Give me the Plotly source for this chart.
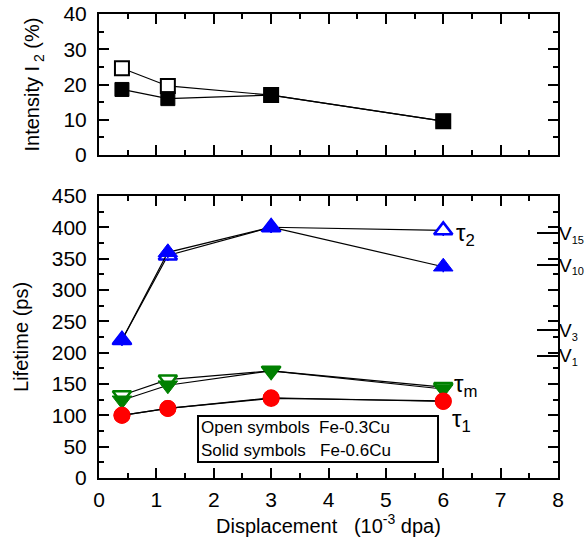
import plotly.graph_objects as go

# ---------------- data ----------------
dpa = [0.4, 1.2, 3.0, 6.0]

# Intensity I2 (%)
i2_open = [24.6, 19.6, 17.0, 9.6]     # Fe-0.3Cu
i2_solid = [18.6, 16.0, 17.0, 9.6]    # Fe-0.6Cu

# Lifetimes (ps)
tau2_open = [220, 355, 400, 395]
tau2_solid = [220, 360, 400, 337]
taum_open = [132, 157, 171, 145]
taum_solid = [124, 148, 171, 142]
tau1_open = [100, 111, 127, 123]
tau1_solid = [100, 111, 128, 122]

# Calculated vacancy-cluster lifetimes (right side marks)
v_levels = [195, 236, 340, 390]
v_subs = ["1", "3", "10", "15"]

FONT = "Liberation Sans, Arial, Helvetica, sans-serif"
BLUE = "#0000ff"
GREEN = "#008000"
RED = "#ff0000"

fig = go.Figure()

def add(x, y, xa, ya, symbol, fill, edge, size, ew=1.5, err=None):
    tr = go.Scatter(
        x=x, y=y, xaxis=xa, yaxis=ya, mode="lines+markers",
        line=dict(color="black", width=1.2),
        marker=dict(symbol=symbol, size=size, color=fill,
                    line=dict(color=edge, width=ew)),
        showlegend=False, cliponaxis=False,
    )
    if err is not None:
        tr.error_y = dict(type="constant", value=err, width=0,
                          thickness=1.5, color=edge)
    fig.add_trace(tr)

# top panel
add(dpa, i2_open, "x", "y", "square", "white", "black", 14, 2)
add(dpa, i2_solid, "x", "y", "square", "black", "black", 14, 1)

# bottom panel
add(dpa, tau2_open, "x2", "y2", "triangle-up", "white", BLUE, 16, 2.5, err=9)
add(dpa, tau2_solid, "x2", "y2", "triangle-up", BLUE, BLUE, 17, 1, err=9)
add(dpa, taum_open, "x2", "y2", "triangle-down", "white", GREEN, 16, 2.5)
add(dpa, taum_solid, "x2", "y2", "triangle-down", GREEN, GREEN, 17, 1)
add(dpa, tau1_open, "x2", "y2", "circle", "white", RED, 15, 2)
add(dpa, tau1_solid, "x2", "y2", "circle", RED, RED, 16, 1)

# dummy traces to activate mirror / overlay axes
for xa, ya in [("x3", "y"), ("x", "y4"), ("x4", "y2"), ("x2", "y5"), ("x2", "y3")]:
    fig.add_trace(go.Scatter(x=[None], y=[None], xaxis=xa, yaxis=ya,
                             showlegend=False, hoverinfo="skip"))

tickfont = dict(family=FONT, size=21, color="black")
base = dict(showline=True, linecolor="black", linewidth=2,
            ticks="inside", tickcolor="black", tickwidth=2, ticklen=10,
            showgrid=False, zeroline=False, automargin=False,
            tickfont=tickfont)

def minor(d):
    return dict(dtick=d, ticklen=5, ticks="inside", tickcolor="black",
                tickwidth=2, showgrid=False)

TOP = [0.696, 1]
BOT = [0, 0.608]

v_labels = ["V<sub><span style='font-size:11px'>%s</span></sub>" % s for s in v_subs]

fig.update_layout(
    template="none",
    width=586, height=550,
    margin=dict(l=99, r=28, t=14, b=72),
    paper_bgcolor="white", plot_bgcolor="white",
    font=dict(family=FONT, color="black"),
    # top panel
    xaxis=dict(base, range=[0, 8], dtick=1, anchor="y", domain=[0, 1],
               showticklabels=False, minor=minor(0.5)),
    xaxis3=dict(base, range=[0, 8], dtick=1, anchor="y", overlaying="x",
                side="top", showticklabels=False, minor=minor(0.5)),
    yaxis=dict(base, range=[0, 40], dtick=10, anchor="x", domain=TOP,
               minor=minor(5), ticklabelstandoff=6,
               title=dict(text="Intensity I<sub> 2</sub> (%)", standoff=18,
                          font=dict(family=FONT, size=20))),
    yaxis4=dict(base, range=[0, 40], dtick=10, anchor="x", overlaying="y",
                side="right", showticklabels=False, minor=minor(5)),
    # bottom panel
    xaxis2=dict(base, range=[0, 8], dtick=1, anchor="y2", domain=[0, 1],
                minor=minor(0.5), ticklabelstandoff=2,
                title=dict(text="Displacement   (10<sup>-3</sup> dpa)",
                           standoff=4, font=dict(family=FONT, size=20))),
    xaxis4=dict(base, range=[0, 8], dtick=1, anchor="y2", overlaying="x2",
                side="top", showticklabels=False, minor=minor(0.5)),
    yaxis2=dict(base, range=[0, 450], dtick=50, anchor="x2", domain=BOT,
                minor=minor(25), ticklabelstandoff=6,
                title=dict(text="Lifetime (ps)", standoff=18,
                           font=dict(family=FONT, size=20))),
    yaxis5=dict(base, range=[0, 450], dtick=50, anchor="x2", overlaying="y2",
                side="right", showticklabels=False, minor=minor(25)),
    yaxis3=dict(overlaying="y2", side="right", anchor="x2",
                range=[0, 450], tickmode="array", tickvals=v_levels,
                ticktext=v_labels, ticks="inside", ticklen=21,
                tickwidth=2, tickcolor="black", showline=False,
                showgrid=False, zeroline=False, automargin=False,
                tickfont=dict(family=FONT, size=19, color="black")),
)

# curve labels
for txt, xv, yv in [("τ<sub>2</sub>", 6.18, 389), ("τ<sub>m</sub>", 6.15, 148),
                    ("τ<sub>1</sub>", 6.12, 92)]:
    fig.add_annotation(x=xv, y=yv, xref="x2", yref="y2", text=txt,
                       showarrow=False, xanchor="left",
                       font=dict(family=FONT, size=24, color="black"))

# legend box
fig.add_annotation(
    x=1.71, y=100.5, xref="x2", yref="y2", xanchor="left", yanchor="top",
    text="Open symbols  Fe-0.3Cu<br>Solid symbols   Fe-0.6Cu",
    showarrow=False, align="left", bordercolor="black", borderwidth=2,
    borderpad=2, bgcolor="white", width=234, height=40,
    font=dict(family=FONT, size=17, color="black"))

fig.write_html("out.html")
